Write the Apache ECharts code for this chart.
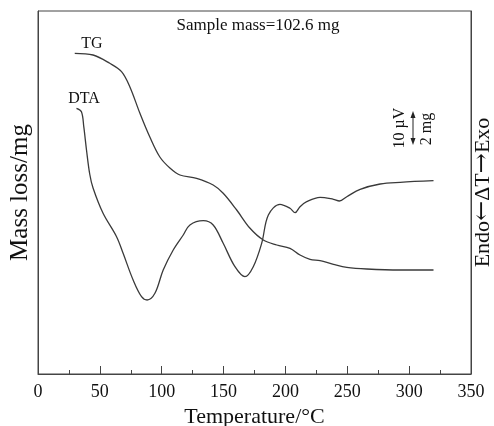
<!DOCTYPE html>
<html><head><meta charset="utf-8">
<script src="https://cdn.jsdelivr.net/npm/echarts@6/dist/echarts.min.js"></script>
<style>html,body{margin:0;padding:0;background:#fff}#c{width:494px;height:426px}</style>
</head><body><div id="c"></div>
<script>
// Temperature (°C) and relative signal (arbitrary units)
const tgTemp = [29.7, 44.5, 58.0, 67.5, 74.2, 82.3, 90.4, 98.5, 106.6, 114.7, 128.2, 141.6, 149.7, 160.6, 171.4, 182.1, 193.0, 203.7, 211.8, 219.9, 228.0, 238.8, 249.6, 265.8, 292.7, 319.7];
const tgValue = [320.7, 319, 310.7, 302.3, 287.3, 261, 237, 217, 206, 199, 195.7, 189, 180.7, 164, 145.7, 134, 129, 125.7, 119, 114.7, 113.3, 109.7, 106.7, 105, 104, 104];

const dtaTemp = [31.1, 35.1, 37.0, 39.2, 41.8, 44.5, 52.6, 63.5, 68.8, 76.9, 83.7, 88.2, 94.5, 101.2, 109.3, 117.4, 122.8, 133.6, 141.6, 149.7, 159.2, 167.3, 174.0, 180.8, 186.2, 195.6, 203.7, 207.8, 211.8, 217.2, 228.0, 238.8, 243.6, 249.6, 260.4, 276.6, 292.7, 319.7];
const dtaValue = [265.7, 262.3, 247.3, 224, 200, 186, 160.7, 137.3, 120.7, 94, 77.3, 74, 80.7, 104, 124, 139, 149, 153.3, 149, 130.7, 107.3, 97.3, 107.3, 130.7, 159, 169.7, 165.7, 161.3, 167.3, 172.3, 176.7, 174.7, 173, 177.3, 184.7, 190, 191.7, 193.3];

const xMin = 0, xMax = 350, xStep = 50;
const yMin = 0, yMax = 363;

const FONT = "'Liberation Serif','Times New Roman',serif";
const INK = '#3a3a3a';

const chart = echarts.init(document.getElementById('c'), null, {renderer: 'canvas'});

const axisBase = {
  type: 'value', min: yMin, max: yMax,
  axisLine: {show: true, lineStyle: {color: '#444', width: 1}},
  axisTick: {show: false}, axisLabel: {show: false}, splitLine: {show: false},
  nameLocation: 'middle', nameRotate: 90
};

chart.setOption({
  animation: false,
  backgroundColor: '#fff',
  grid: {left: 38, right: 23, top: 11, bottom: 52, containLabel: false, outerBoundsMode: 'none',
         show: true, borderColor: '#444', borderWidth: 1, backgroundColor: 'transparent'},
  xAxis: {
    type: 'value', min: xMin, max: xMax, interval: xStep,
    axisLine: {show: true, lineStyle: {color: '#444', width: 1}},
    axisTick: {show: true, inside: true, length: 8, lineStyle: {color: '#444'}},
    minorTick: {show: true, splitNumber: 2, length: 4, lineStyle: {color: '#444'}},
    splitLine: {show: false}, minorSplitLine: {show: false},
    axisLabel: {fontFamily: FONT, fontSize: 18, color: '#111', margin: 9},
    name: 'Temperature/°C', nameLocation: 'middle', nameGap: 29,
    nameTextStyle: {fontFamily: FONT, fontSize: 22, color: '#111'}
  },
  yAxis: [
    Object.assign({}, axisBase, {position: 'left', name: 'Mass loss/mg', nameGap: 5,
      nameTextStyle: {fontFamily: FONT, fontSize: 25, color: '#111'}}),
    Object.assign({}, axisBase, {position: 'right', name: 'Endo{a|←}ΔT{a|→}Exo', nameGap: 1,
      nameTextStyle: {fontFamily: FONT, fontSize: 22, lineHeight: 22, color: '#111',
        rich: {a: {fontFamily: "'DejaVu Serif', serif", fontSize: 24, lineHeight: 22, color: '#111'}}}})
  ],
  series: [
    {name: 'TG', type: 'line', yAxisIndex: 0, smooth: 0.35, showSymbol: false,
     lineStyle: {color: INK, width: 1.3}, data: tgTemp.map((t, i) => [t, tgValue[i]])},
    {name: 'DTA', type: 'line', yAxisIndex: 0, smooth: 0.35, showSymbol: false,
     lineStyle: {color: INK, width: 1.3}, data: dtaTemp.map((t, i) => [t, dtaValue[i]])}
  ],
  graphic: [
    {type: 'text', x: 258, y: 26, style: {text: 'Sample mass=102.6 mg', font: '17px ' + FONT, fill: '#111', textAlign: 'center', textVerticalAlign: 'middle'}},
    {type: 'text', x: 92, y: 44, style: {text: 'TG', font: '16px ' + FONT, fill: '#111', textAlign: 'center', textVerticalAlign: 'middle'}},
    {type: 'text', x: 84, y: 99, style: {text: 'DTA', font: '16px ' + FONT, fill: '#111', textAlign: 'center', textVerticalAlign: 'middle'}},
    {type: 'text', x: 400, y: 128, rotation: Math.PI / 2, style: {text: '10 µV', font: '16px ' + FONT, fill: '#111', textAlign: 'center', textVerticalAlign: 'middle'}},
    {type: 'text', x: 427, y: 129, rotation: Math.PI / 2, style: {text: '2 mg', font: '16px ' + FONT, fill: '#111', textAlign: 'center', textVerticalAlign: 'middle'}},
    {type: 'line', shape: {x1: 413, y1: 116, x2: 413, y2: 140}, style: {stroke: '#222', lineWidth: 1}},
    {type: 'polygon', shape: {points: [[413, 111], [410.5, 118], [415.5, 118]]}, style: {fill: '#222'}},
    {type: 'polygon', shape: {points: [[413, 145], [410.5, 138], [415.5, 138]]}, style: {fill: '#222'}}
  ]
});
</script>
</body></html>
